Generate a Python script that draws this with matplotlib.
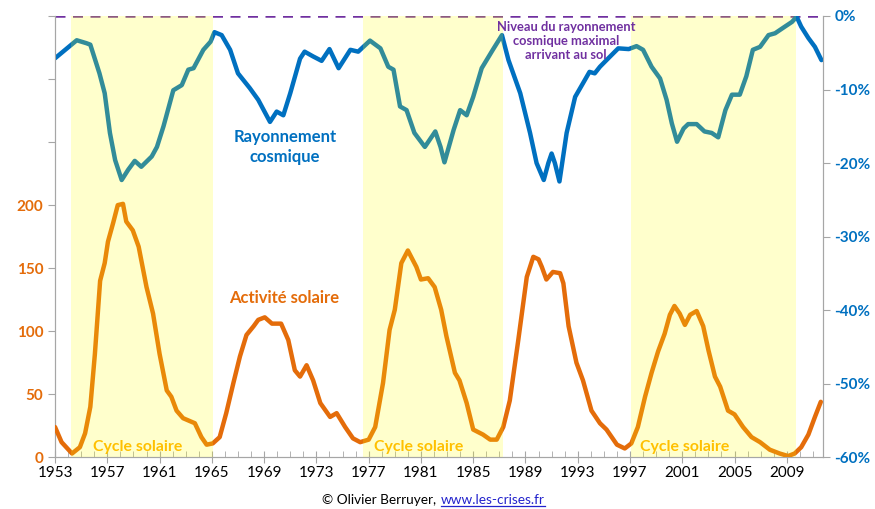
import matplotlib
matplotlib.use("Agg")
import matplotlib.pyplot as plt
from matplotlib.ticker import FixedLocator, FuncFormatter

plt.rcParams['font.family'] = ['Lato', 'DejaVu Sans']

# cosmic ray level, % relative to the max reaching the ground (right axis)
cosmic_years = [1953.0, 1954.66, 1955.4, 1955.7, 1956.4, 1956.8, 1957.2, 1957.6, 1958.1, 1958.6,
                1959.1, 1959.6, 1960.4, 1960.8, 1961.3, 1961.5, 1962.05, 1962.7, 1963.2, 1963.6,
                1964.35, 1964.9, 1965.2, 1965.75, 1966.4, 1967.0, 1967.9, 1968.55, 1969.45, 1969.96,
                1970.47, 1971.0, 1971.75, 1972.1, 1972.75, 1973.4, 1974.0, 1974.7, 1975.6, 1976.2,
                1977.1, 1977.9, 1978.5, 1978.9, 1979.4, 1979.9, 1980.5, 1981.3, 1982.1, 1982.5,
                1982.8, 1983.5, 1984.0, 1984.5, 1985.0, 1985.65, 1986.5, 1987.2, 1987.7, 1988.6,
                1989.35, 1989.85, 1990.4, 1990.75, 1991.0, 1991.25, 1991.6, 1992.15, 1992.8, 1993.4,
                1993.9, 1994.3, 1994.7, 1995.2, 1996.1, 1996.9, 1997.5, 1998.0, 1998.65, 1999.3,
                1999.8, 2000.2, 2000.6, 2001.1, 2001.45, 2002.1, 2002.7, 2003.25, 2003.75, 2004.3,
                2004.8, 2005.4, 2005.9, 2006.4, 2006.95, 2007.6, 2008.1, 2008.85, 2009.4, 2009.75,
                2010.1, 2010.65, 2011.15, 2011.65]
cosmic_pct = [-5.75, -3.3, -3.7, -3.9, -7.8, -10.5, -15.9, -19.6, -22.3, -20.9,
              -19.7, -20.5, -19.1, -17.8, -15.0, -13.7, -10.1, -9.4, -7.3, -7.1,
              -4.6, -3.5, -2.2, -2.6, -4.6, -7.8, -9.8, -11.4, -14.4, -13.0,
              -13.5, -10.5, -5.8, -4.85, -5.5, -6.1, -4.5, -7.1, -4.6, -4.85,
              -3.35, -4.4, -6.9, -7.3, -12.3, -12.8, -15.9, -17.8, -15.7, -17.8,
              -19.9, -15.5, -12.8, -13.5, -11.0, -7.1, -4.6, -2.6, -6.0, -10.5,
              -15.9, -20.0, -22.3, -20.0, -18.7, -20.0, -22.5, -15.9, -11.0, -9.15,
              -7.6, -7.8, -6.9, -6.0, -4.4, -4.5, -4.1, -4.6, -6.9, -8.5,
              -11.4, -14.6, -17.1, -15.3, -14.7, -14.7, -15.7, -15.9, -16.5, -12.8,
              -10.7, -10.7, -8.2, -4.6, -4.2, -2.6, -2.35, -1.45, -0.8, -0.1,
              -1.45, -3.0, -4.2, -6.0]

# solar activity (sunspot number, left axis)
solar_years = [1953.0, 1953.5, 1954.3, 1954.9, 1955.3, 1955.7, 1956.05, 1956.45, 1956.8, 1957.05,
               1957.45, 1957.8, 1958.2, 1958.45, 1958.95, 1959.4, 1960.0, 1960.5, 1961.0, 1961.55,
               1961.9, 1962.3, 1962.8, 1963.7, 1964.2, 1964.6, 1965.07, 1965.6, 1966.1, 1966.65,
               1967.15, 1967.65, 1968.2, 1968.55, 1969.05, 1969.6, 1970.3, 1970.85, 1971.35, 1971.75,
               1972.25, 1972.75, 1973.3, 1974.05, 1974.55, 1975.2, 1975.8, 1976.35, 1977.0, 1977.5,
               1978.1, 1978.6, 1979.0, 1979.5, 1980.0, 1980.65, 1981.0, 1981.55, 1982.05, 1982.55,
               1982.95, 1983.6, 1983.95, 1984.5, 1985.0, 1985.75, 1986.3, 1986.8, 1987.3, 1987.8,
               1988.45, 1989.1, 1989.6, 1990.0, 1990.25, 1990.6, 1991.1, 1991.65, 1991.9, 1992.3,
               1992.9, 1993.4, 1994.05, 1994.7, 1995.2, 1996.0, 1996.6, 1997.1, 1997.6, 1998.15,
               1998.65, 1999.15, 1999.65, 2000.05, 2000.4, 2000.8, 2001.2, 2001.6, 2002.1, 2002.6,
               2003.0, 2003.5, 2003.9, 2004.5, 2005.0, 2005.65, 2006.3, 2006.95, 2007.7, 2008.45,
               2009.1, 2009.6, 2010.1, 2010.65, 2011.15, 2011.6]
solar_values = [24, 12, 3, 8, 19, 40, 82, 140, 154, 171,
                186, 200, 201, 187, 180, 167, 135, 114, 82, 53,
                48, 37, 31, 27, 16, 10, 11, 16, 35, 59,
                80, 97, 104, 109, 111, 106, 106, 93, 69, 64,
                73, 61, 43, 32, 35, 24, 15, 12, 14, 24,
                59, 101, 117, 154, 164, 151, 141, 142, 135, 117,
                96, 67, 61, 43, 22, 18, 14, 14, 24, 45,
                93, 143, 159, 157, 151, 141, 147, 146, 138, 104,
                75, 61, 37, 27, 22, 10, 7, 11, 24, 48,
                67, 84, 98, 113, 120, 114, 105, 113, 116, 104,
                85, 64, 56, 37, 34, 24, 16, 12, 6, 3,
                1, 3, 8, 18, 32, 44]

# solar cycle shaded periods
cycle_starts = [1954.2, 1976.6, 1997.05]
cycle_ends = [1965.06, 1987.25, 2009.7]

blue = '#0070C0'
orange = '#E46C0A'
purple = '#7030A0'
gray = '#A6A6A6'

fig = plt.figure(figsize=(8.75, 5.09), dpi=100)
ax2 = fig.add_axes([0.0629, 0.1016, 0.8774, 0.8670])
ax = ax2.twinx()   # left-scale axes on top so the bands tint both lines
ax.yaxis.tick_left()
ax2.yaxis.tick_right()

ax2.plot(cosmic_years, cosmic_pct, color=blue, lw=3.2, solid_joinstyle='round',
         solid_capstyle='round', zorder=3)
ax2.axhline(0, color=purple, lw=1.8, ls=(0, (4, 3)), zorder=2)
ax.plot(solar_years, solar_values, color=orange, lw=3.2, solid_joinstyle='round',
        solid_capstyle='round', zorder=3)

for s, e in zip(cycle_starts, cycle_ends):
    ax.axvspan(s, e, color='#FFFF00', alpha=0.2, lw=0, zorder=5)
for xc in (1959.3, 1980.85, 2001.2):
    ax.text(xc, 3, 'Cycle solaire', color='#FFC000', fontsize=11.4,
            fontweight='bold', ha='center', va='bottom', zorder=6)

ax.set_xlim(1953, 2011.75)
ax.set_ylim(0, 350)
ax2.set_ylim(-60, 0)

ax2.xaxis.set_major_locator(FixedLocator(range(1953, 2012, 4)))
ax2.xaxis.set_minor_locator(FixedLocator(range(1953, 2012)))
ax2.tick_params(axis='x', which='major', direction='inout', length=8, color=gray,
                labelsize=11, pad=2)
ax2.tick_params(axis='x', which='minor', direction='in', length=4, color=gray)

ax.yaxis.set_major_locator(FixedLocator(range(0, 351, 50)))
ax.yaxis.set_major_formatter(FuncFormatter(lambda v, p: f'{int(v)}' if v <= 200 else ''))
ax.tick_params(axis='y', direction='out', length=5, color=gray, labelcolor=orange,
               labelsize=11)
for lab in ax.get_yticklabels():
    lab.set_fontweight('bold')

ax2.yaxis.set_major_locator(FixedLocator(range(-60, 1, 10)))
ax2.yaxis.set_major_formatter(FuncFormatter(lambda v, p: f'{int(v)}%'))
ax2.tick_params(axis='y', direction='out', length=5, color=gray, labelcolor=blue,
                labelsize=11)
for lab in ax2.get_yticklabels():
    lab.set_fontweight('bold')

for a in (ax, ax2):
    a.spines['top'].set_visible(False)
    for sp in ('left', 'right', 'bottom'):
        a.spines[sp].set_color(gray)

ax.text(1970.6, -17.8, 'Rayonnement\ncosmique', transform=ax2.transData, color=blue,
        fontsize=12, fontweight='bold', ha='center', va='center', linespacing=1.3, zorder=7)
ax.text(1992.1, -3.4, 'Niveau du rayonnement\ncosmique maximal\narrivant au sol',
        transform=ax2.transData, color=purple, fontsize=9.3, fontweight='bold',
        ha='center', va='center', linespacing=1.2, zorder=7)
ax.text(1970.5, 126, 'Activité solaire', color=orange, fontsize=12,
        fontweight='bold', ha='center', va='center', zorder=7)

t1 = fig.text(0.368, 0.0175, '© Olivier Berruyer,', fontsize=9.8, ha='left', va='center')
fig.canvas.draw()
r = fig.canvas.get_renderer()
bb1 = t1.get_window_extent(r)
x_link = (bb1.x1 + 5) / fig.bbox.width
t2 = fig.text(x_link, 0.0175, 'www.les-crises.fr', fontsize=9.8, ha='left', va='center',
              color='#2222CC')
bb2 = t2.get_window_extent(r)
fig.add_artist(plt.Line2D([bb2.x0 / fig.bbox.width, bb2.x1 / fig.bbox.width],
                          [0.006, 0.006], color='#2222CC', lw=0.9))

fig.savefig('out.png', dpi=100)
